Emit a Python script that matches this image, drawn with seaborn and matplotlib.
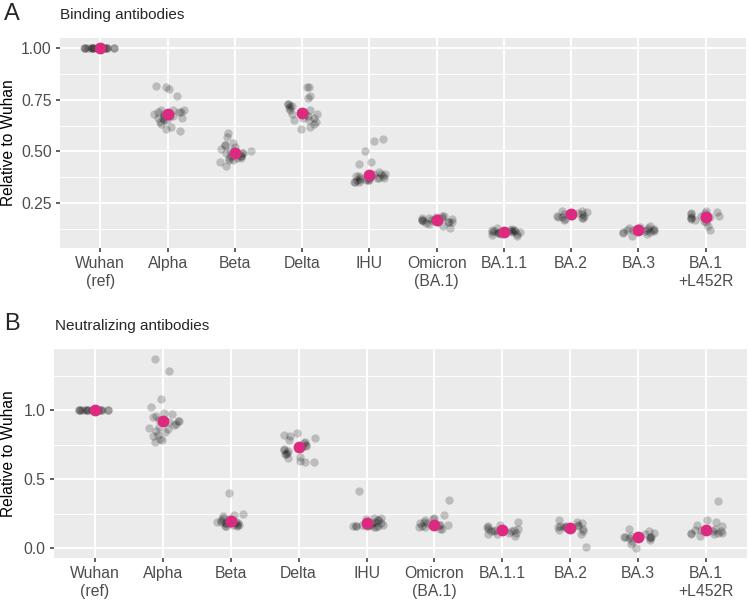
import numpy as np
import pandas as pd
import matplotlib
matplotlib.use("Agg")
import matplotlib.pyplot as plt
from matplotlib.ticker import FixedLocator
import seaborn as sns

variants = ["Wuhan\n(ref)", "Alpha", "Beta", "Delta", "IHU", "Omicron\n(BA.1)",
            "BA.1.1", "BA.2", "BA.3", "BA.1\n+L452R"]

# Panel A: binding antibodies (relative to Wuhan)
bind_wuhan = [1.0] * 22
bind_alpha = [0.81, 0.815, 0.80, 0.77, 0.70, 0.69, 0.67, 0.66, 0.70, 0.70, 0.69, 0.69,
              0.68, 0.68, 0.67, 0.67, 0.66, 0.66, 0.65, 0.65, 0.64, 0.63, 0.61, 0.60, 0.62]
bind_beta = [0.59, 0.57, 0.54, 0.53, 0.53, 0.52, 0.51, 0.50, 0.50, 0.49, 0.49, 0.48,
             0.48, 0.48, 0.47, 0.47, 0.47, 0.46, 0.46, 0.45, 0.43, 0.50, 0.49]
bind_delta = [0.81, 0.81, 0.70, 0.69, 0.68, 0.73, 0.73, 0.72, 0.72, 0.71, 0.70, 0.69,
              0.68, 0.68, 0.67, 0.66, 0.65, 0.65, 0.64, 0.63, 0.62, 0.61, 0.66, 0.77, 0.76]
bind_ihu = [0.56, 0.55, 0.50, 0.45, 0.44, 0.38, 0.37, 0.40, 0.39, 0.39, 0.38, 0.38, 0.37,
            0.37, 0.37, 0.36, 0.36, 0.36, 0.35, 0.35, 0.38, 0.39, 0.36, 0.36, 0.35, 0.37]
bind_omicron = [0.19, 0.19, 0.185, 0.18, 0.18, 0.175, 0.17, 0.17, 0.17, 0.165, 0.16,
                0.16, 0.16, 0.155, 0.15, 0.14, 0.13, 0.17, 0.18, 0.16]
bind_ba11 = [0.13, 0.125, 0.12, 0.12, 0.115, 0.115, 0.11, 0.11, 0.11, 0.105, 0.10,
             0.10, 0.095, 0.09, 0.12, 0.11, 0.105, 0.115]
bind_ba2 = [0.21, 0.21, 0.205, 0.20, 0.20, 0.195, 0.195, 0.19, 0.19, 0.185, 0.18,
            0.18, 0.175, 0.17, 0.20, 0.19, 0.185]
bind_ba3 = [0.14, 0.135, 0.13, 0.13, 0.125, 0.12, 0.12, 0.12, 0.115, 0.11, 0.11,
            0.105, 0.10, 0.09, 0.125, 0.12, 0.115]
bind_l452r = [0.21, 0.205, 0.20, 0.20, 0.195, 0.19, 0.19, 0.185, 0.18, 0.18, 0.175,
              0.17, 0.165, 0.16, 0.14, 0.12, 0.19, 0.185]
bind_means = [1.00, 0.683, 0.492, 0.685, 0.388, 0.168, 0.112, 0.195, 0.122, 0.183]

# Panel B: neutralizing antibodies (relative to Wuhan)
neut_wuhan = [1.0] * 20
neut_alpha = [1.37, 1.28, 1.08, 1.02, 0.98, 0.97, 0.96, 0.95, 0.93, 0.92, 0.92, 0.91,
              0.90, 0.89, 0.88, 0.87, 0.86, 0.84, 0.82, 0.81, 0.79, 0.78, 0.77, 0.85]
neut_beta = [0.40, 0.25, 0.24, 0.23, 0.22, 0.21, 0.20, 0.19, 0.19, 0.19, 0.18, 0.18,
             0.18, 0.17, 0.17, 0.16, 0.16, 0.19, 0.18, 0.17, 0.16]
neut_delta = [0.83, 0.82, 0.81, 0.80, 0.78, 0.77, 0.76, 0.75, 0.74, 0.73, 0.72, 0.71,
              0.70, 0.69, 0.68, 0.68, 0.66, 0.65, 0.62, 0.62, 0.63, 0.74]
neut_ihu = [0.41, 0.22, 0.20, 0.22, 0.21, 0.20, 0.19, 0.18, 0.18, 0.17, 0.17, 0.17,
            0.16, 0.16, 0.15, 0.15, 0.17, 0.16, 0.16, 0.16, 0.16]
neut_omicron = [0.35, 0.24, 0.22, 0.21, 0.20, 0.19, 0.18, 0.17, 0.17, 0.16, 0.16, 0.15,
                0.15, 0.14, 0.14, 0.16, 0.18, 0.17]
neut_ba11 = [0.19, 0.17, 0.16, 0.15, 0.14, 0.14, 0.13, 0.13, 0.12, 0.12, 0.11, 0.11,
             0.10, 0.10, 0.09, 0.13, 0.12]
neut_ba2 = [0.20, 0.19, 0.18, 0.17, 0.16, 0.16, 0.15, 0.15, 0.14, 0.14, 0.13, 0.12,
            0.10, 0.01, 0.15, 0.16]
neut_ba3 = [0.14, 0.12, 0.11, 0.10, 0.09, 0.09, 0.08, 0.08, 0.08, 0.07, 0.07, 0.06,
            0.05, 0.03, 0.00, 0.09, 0.08]
neut_l452r = [0.34, 0.20, 0.19, 0.17, 0.16, 0.14, 0.13, 0.12, 0.12, 0.11, 0.11, 0.10,
              0.10, 0.09, 0.12, 0.13, 0.11]
neut_means = [1.00, 0.92, 0.195, 0.73, 0.18, 0.167, 0.128, 0.148, 0.083, 0.13]

bind_groups = [bind_wuhan, bind_alpha, bind_beta, bind_delta, bind_ihu, bind_omicron,
               bind_ba11, bind_ba2, bind_ba3, bind_l452r]
neut_groups = [neut_wuhan, neut_alpha, neut_beta, neut_delta, neut_ihu, neut_omicron,
               neut_ba11, neut_ba2, neut_ba3, neut_l452r]


def long_df(groups):
    rows = []
    for v, vals in zip(variants, groups):
        for val in vals:
            rows.append((v, val))
    return pd.DataFrame(rows, columns=["variant", "value"])


sns.set_theme(style="darkgrid")
plt.rcParams["font.family"] = ["Liberation Sans", "DejaVu Sans"]

MAGENTA = "#DC2A80"
BG = "#EBEBEB"

fig = plt.figure(figsize=(7.49, 6.01), dpi=100)
axA = fig.add_axes([60 / 749, 1 - 248 / 601, 686 / 749, 210 / 601])
axB = fig.add_axes([54 / 749, 1 - 558 / 601, 693 / 749, 209 / 601])


def draw(ax, groups, means, ylim, major, minor, fmt, label_x):
    df = long_df(groups)
    mdf = pd.DataFrame({"variant": variants, "value": means})
    np.random.seed(3)
    sns.stripplot(data=df, x="variant", y="value", order=variants, ax=ax,
                  jitter=0.25, color="black", alpha=0.2, size=6, linewidth=0,
                  zorder=3)
    sns.stripplot(data=mdf, x="variant", y="value", order=variants, ax=ax,
                  jitter=False, color=MAGENTA, size=8.5, linewidth=0, zorder=4)
    ax.set_facecolor(BG)
    ax.set_xlim(-0.6, 9.6)
    ax.set_ylim(*ylim)
    ax.yaxis.set_major_locator(FixedLocator(major))
    ax.yaxis.set_minor_locator(FixedLocator(minor))
    ax.set_yticklabels([fmt.format(v) for v in major])
    ax.grid(which="major", color="white", linewidth=1.4)
    ax.grid(which="minor", axis="y", color="white", linewidth=0.7)
    for s in ax.spines.values():
        s.set_visible(False)
    ax.tick_params(which="major", length=3, width=1.1, color="#333333",
                   labelcolor="#4D4D4D", labelsize=11.3, pad=3, bottom=True, left=True)
    ax.tick_params(which="minor", length=0)
    ax.set_xlabel("")
    ax.set_ylabel("Relative to Wuhan", fontsize=11.2, color="black")
    ax.yaxis.set_label_coords(label_x, 0.5)
    ax.set_axisbelow(True)


draw(axA, bind_groups, bind_means, (0.033, 1.048), [0.25, 0.50, 0.75, 1.00],
     [0.125, 0.375, 0.625, 0.875], "{:.2f}", (16 - 60) / 686)
draw(axB, neut_groups, neut_means, (-0.072, 1.442), [0.0, 0.5, 1.0],
     [0.25, 0.75, 1.25], "{:.1f}", (16 - 54) / 693)

fig.text(4 / 749, 1 - 14 / 601, "A", fontsize=17, va="center", ha="left")
fig.text(60 / 749, 1 - 15 / 601, "Binding antibodies", fontsize=11, va="center", ha="left")
fig.text(4 / 749, 1 - 324 / 601, "B", fontsize=17, va="center", ha="left")
fig.text(55 / 749, 1 - 326 / 601, "Neutralizing antibodies", fontsize=11, va="center", ha="left")

fig.savefig("out.png", dpi=100, facecolor="white")
